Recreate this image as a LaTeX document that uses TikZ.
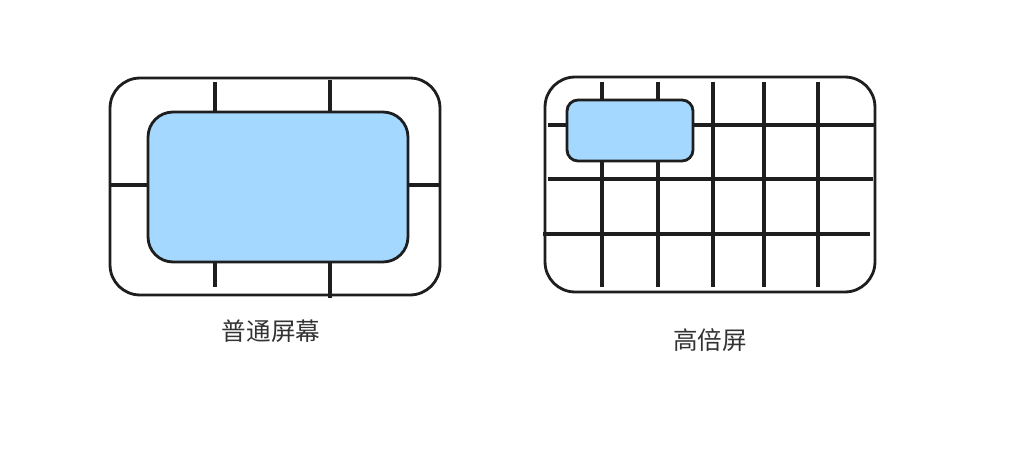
\documentclass[tikz,border=0pt]{standalone}
\usepackage{fontspec}
\newfontfamily\cjk{Noto Sans CJK SC}
\usepackage{tikz}
\usetikzlibrary{positioning}
\definecolor{ink}{HTML}{1E1E1E}
\definecolor{screenblue}{HTML}{A5D8FF}
\tikzstyle{frame} = [rectangle, rounded corners=0.6cm, inner sep=0pt, draw=ink, line width=1.6pt, fill=white]
\tikzstyle{win} = [rectangle, inner sep=0pt, draw=ink, line width=1.6pt, fill=screenblue]
\tikzstyle{grid} = [draw=ink, line width=1.8pt]
\tikzstyle{caption} = [text=black!80, font=\cjk\fontsize{14pt}{16pt}\selectfont]

\begin{document}
\begin{tikzpicture}[x=0.02cm, y=-0.02cm]
\useasboundingbox (0,0) rectangle (1035,449);
% normal screen
\node (Normal) [frame, minimum width=6.6cm, minimum height=4.34cm] at (275,186.5) {};
\draw [grid] (215,82) -- (215,287);
\draw [grid] (330,80) -- (330,298);
\draw [grid] (111,185) -- (440,185);
\node (NormalWin) [win, rounded corners=0.5cm, minimum width=5.2cm, minimum height=3cm] at (278,187) {};
\node (NormalText) [caption] at (271,331) {普通屏幕};
% high dpi screen
\node (Retina) [frame, minimum width=6.6cm, minimum height=4.3cm] at (710,184.5) {};
\foreach \x in {602,658,713,764,818}
  \draw [grid] (\x,82) -- (\x,287);
\draw [grid] (548,125) -- (875,125);
\draw [grid] (548,179) -- (873,179);
\draw [grid] (543,234) -- (870,234);
\node (RetinaWin) [win, rounded corners=0.22cm, minimum width=2.52cm, minimum height=1.22cm] at (630,130.5) {};
\node (RetinaText) [caption] at (710,340) {高倍屏};
\end{tikzpicture}
\end{document}
